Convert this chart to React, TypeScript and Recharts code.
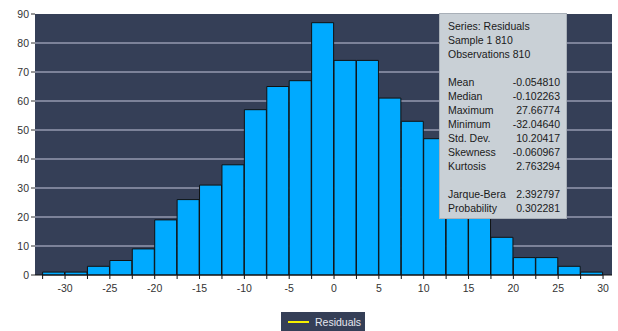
import { BarChart, Bar, XAxis, YAxis, CartesianGrid } from 'recharts';

// histogram bins: 2.5 wide, from -32.5 to 30
const binStarts = [
  -32.5, -30, -27.5, -25, -22.5, -20, -17.5, -15, -12.5, -10, -7.5, -5, -2.5,
  0, 2.5, 5, 7.5, 10, 12.5, 15, 17.5, 20, 22.5, 25, 27.5,
];
const counts = [1, 1, 3, 5, 9, 19, 26, 31, 38, 57, 65, 67, 87, 74, 74, 61, 53, 47, 34, 29, 13, 6, 6, 3, 1];

const xTicks = [
  -32.5, -30, -27.5, -25, -22.5, -20, -17.5, -15, -12.5, -10, -7.5, -5, -2.5,
  0, 2.5, 5, 7.5, 10, 12.5, 15, 17.5, 20, 22.5, 25, 27.5, 30,
];
const yTicks = [0, 10, 20, 30, 40, 50, 60, 70, 80, 90];
const gridValues = [10, 20, 30, 40, 50, 60, 70, 80];

const statsHeader = ['Series: Residuals', 'Sample 1 810', 'Observations 810'];
const statsRows: [string, string][] = [
  ['Mean', '-0.054810'],
  ['Median', '-0.102263'],
  ['Maximum', '27.66774'],
  ['Minimum', '-32.04640'],
  ['Std. Dev.', '10.20417'],
  ['Skewness', '-0.060967'],
  ['Kurtosis', '2.763294'],
];
const testRows: [string, string][] = [
  ['Jarque-Bera', '2.392797'],
  ['Probability', '0.302281'],
];

const data = binStarts.map((s, i) => ({ mid: s + 1.25, count: counts[i] }));

const FONT = '"Liberation Sans", Arial, sans-serif';

function StatRow({ label, value }: { label: string; value: string }) {
  return (
    <div style={{ display: 'flex', justifyContent: 'space-between' }}>
      <span>{label}</span>
      <span>{value}</span>
    </div>
  );
}

export default function App() {
  return (
    <div style={{ position: 'absolute', left: 0, top: 0, width: 618, height: 331, background: '#fff', fontFamily: FONT }}>
      <BarChart
        width={618}
        height={331}
        data={data}
        margin={{ top: 14, right: 6, left: 0, bottom: 0 }}
        barCategoryGap={0}
        barGap={0}
      >
        <CartesianGrid
          vertical={false}
          horizontalValues={gridValues}
          stroke="#c4c6dc"
          strokeWidth={1}
          fill="#353f57"
          fillOpacity={1}
        />
        <XAxis
          dataKey="mid"
          type="number"
          domain={[-33.35, 31]}
          allowDataOverflow
          ticks={xTicks}
          interval={0}
          tickFormatter={(v: number) => (v % 5 === 0 ? String(v) : '')}
          tick={{ fontSize: 10.5, fill: '#333', fontFamily: FONT }}
          tickSize={4}
          tickMargin={6}
          axisLine={{ stroke: '#111' }}
          tickLine={{ stroke: '#111' }}
          height={56}
        />
        <YAxis
          type="number"
          domain={[0, 90]}
          ticks={yTicks}
          interval={0}
          width={35}
          tick={{ fontSize: 10.5, fill: '#333', fontFamily: FONT }}
          tickSize={4}
          tickMargin={2}
          axisLine={false}
          tickLine={{ stroke: '#333' }}
        />
        <Bar dataKey="count" fill="#00aaff" stroke="#111" strokeWidth={1} isAnimationActive={false} />
      </BarChart>

      <div
        style={{
          position: 'absolute',
          left: 439,
          top: 13,
          width: 128,
          height: 206,
          boxSizing: 'border-box',
          background: '#c9d0d6',
          border: '1px solid #a9b0b8',
          padding: '5px 6px 0 8px',
          fontSize: 10.5,
          lineHeight: '14px',
          color: '#1a1a1a',
        }}
      >
        {statsHeader.map((t) => (
          <div key={t}>{t}</div>
        ))}
        <div style={{ height: 14 }} />
        {statsRows.map(([l, v]) => (
          <StatRow key={l} label={l} value={v} />
        ))}
        <div style={{ height: 14 }} />
        {testRows.map(([l, v]) => (
          <StatRow key={l} label={l} value={v} />
        ))}
      </div>

      <div
        style={{
          position: 'absolute',
          left: 281,
          top: 312,
          width: 84,
          height: 19,
          background: '#353f57',
          display: 'flex',
          alignItems: 'center',
          fontSize: 10.5,
          color: '#e6e8f0',
        }}
      >
        <div style={{ marginLeft: 7, width: 21, height: 2, background: '#f5f000' }} />
        <span style={{ marginLeft: 6 }}>Residuals</span>
      </div>
    </div>
  );
}
